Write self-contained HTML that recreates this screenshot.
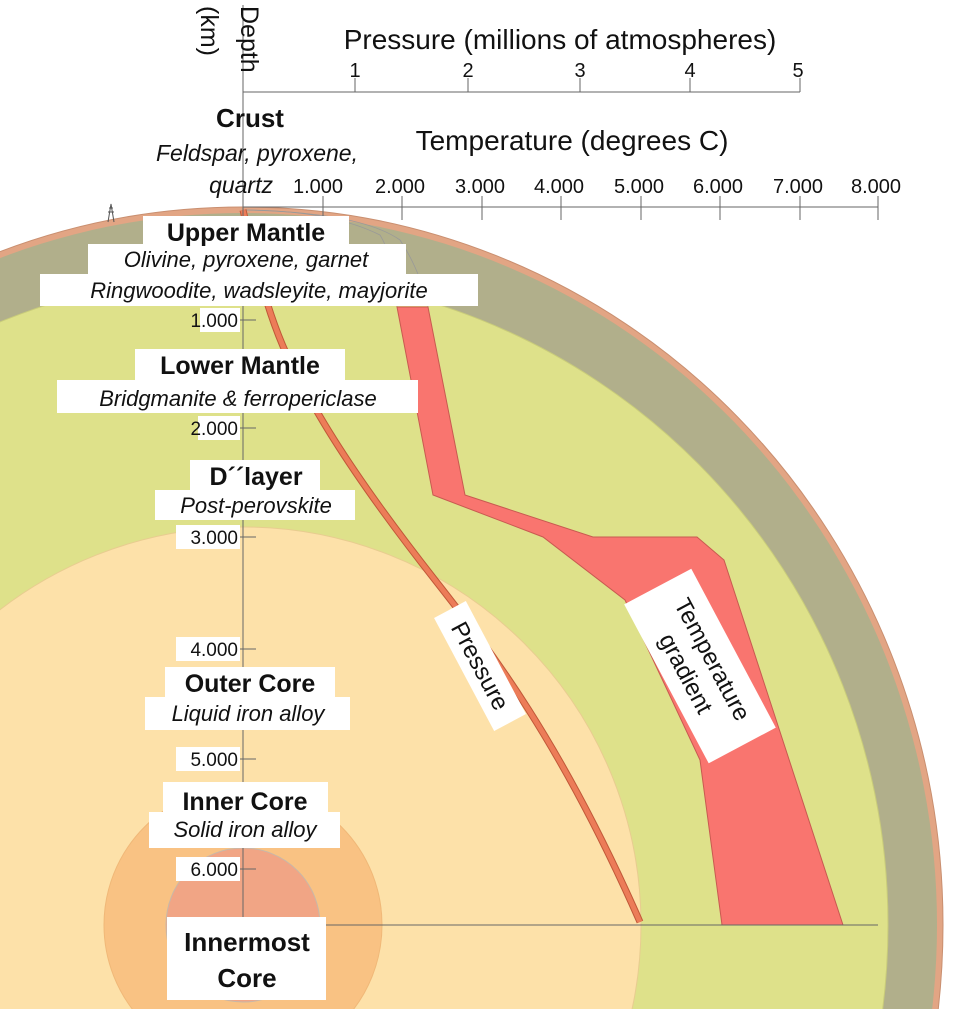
<!DOCTYPE html>
<html><head><meta charset="utf-8"><style>
html,body{margin:0;padding:0;background:#fff;width:959px;height:1009px;overflow:hidden;}
svg{display:block;font-family:"Liberation Sans",sans-serif;}
</style></head><body>
<svg width="959" height="1009" viewBox="0 0 959 1009" xmlns="http://www.w3.org/2000/svg">
<rect width="959" height="1009" fill="#fff"/>
<ellipse cx="243" cy="925" rx="700" ry="718" fill="#e2a584" stroke="#c98f70" stroke-width="1"/>
<ellipse cx="243" cy="925" rx="694" ry="712" fill="#b1af8b"/>
<ellipse cx="243" cy="925" rx="645" ry="651" fill="#dee18a" stroke="#c9cc7a" stroke-width="1"/>
<circle cx="243" cy="925" r="398" fill="#fde1a9" stroke="#e8cc90" stroke-width="1"/>
<circle cx="243" cy="925" r="139" fill="#f9c283" stroke="#f0b878" stroke-width="1"/>
<circle cx="243" cy="925" r="77" fill="#f1a585" stroke="#c8b8a8" stroke-width="1"/>
<path d="M243,210 Q330,210 380,235 Q395,260 397,307" fill="none" stroke="#999" stroke-width="0.8"/>
<path d="M243,210 Q360,212 400,240 Q420,270 428,307" fill="none" stroke="#999" stroke-width="0.8"/>
<polygon points="397,307 428,307 465,495 593,537 697,537 724,560 843,925 722,925 700,760 625,600 543,537 433,495" fill="#f9756f" stroke="#c85a50" stroke-width="1"/>
<path d="M243,210 C255,260 270,330 300,380 C330,440 380,510 435,580 C490,650 560,740 640,922" fill="none" stroke="#c05838" stroke-width="7"/>
<path d="M243,210 C255,260 270,330 300,380 C330,440 380,510 435,580 C490,650 560,740 640,922" fill="none" stroke="#ec7c58" stroke-width="5"/>
<g stroke="#666" stroke-width="1" fill="none">
<line x1="243" y1="92" x2="800" y2="92"/>
<line x1="355" y1="78" x2="355" y2="92"/><line x1="468" y1="78" x2="468" y2="92"/><line x1="580" y1="78" x2="580" y2="92"/><line x1="690" y1="78" x2="690" y2="92"/><line x1="800" y1="78" x2="800" y2="92"/>
<line x1="243" y1="207" x2="878" y2="207"/>
<line x1="323" y1="196" x2="323" y2="220"/><line x1="402" y1="196" x2="402" y2="220"/><line x1="482" y1="196" x2="482" y2="220"/><line x1="561" y1="196" x2="561" y2="220"/><line x1="641" y1="196" x2="641" y2="220"/><line x1="720" y1="196" x2="720" y2="220"/><line x1="800" y1="196" x2="800" y2="220"/><line x1="878" y1="196" x2="878" y2="220"/>
<line x1="243" y1="5" x2="243" y2="925"/>
<line x1="243" y1="925" x2="878" y2="925"/>
<line x1="236" y1="320" x2="256" y2="320"/><line x1="236" y1="428" x2="256" y2="428"/><line x1="236" y1="537" x2="256" y2="537"/><line x1="236" y1="649" x2="256" y2="649"/><line x1="236" y1="759" x2="256" y2="759"/><line x1="236" y1="869" x2="256" y2="869"/>
</g>
<g stroke="#555" stroke-width="1" fill="none"><path d="M108,222 L111,204 L114,222 M108,212 L114,212 M109,208 L113,208"/></g>
<g fill="#111">
<text x="560" y="49" font-size="28" text-anchor="middle">Pressure (millions of atmospheres)</text>
<g font-size="20" text-anchor="middle"><text x="355" y="77">1</text><text x="468" y="77">2</text><text x="580" y="77">3</text><text x="690" y="77">4</text><text x="798" y="77">5</text></g>
<text x="572" y="150" font-size="28" text-anchor="middle">Temperature (degrees C)</text>
<g font-size="20" text-anchor="middle"><text x="318" y="193">1.000</text><text x="400" y="193">2.000</text><text x="480" y="193">3.000</text><text x="559" y="193">4.000</text><text x="639" y="193">5.000</text><text x="718" y="193">6.000</text><text x="798" y="193">7.000</text><text x="876" y="193">8.000</text></g>
<text transform="translate(241,6) rotate(90)" font-size="25">Depth</text>
<text transform="translate(201,6) rotate(90)" font-size="25">(km)</text>
<text x="250" y="127" font-size="26" font-weight="bold" text-anchor="middle">Crust</text>
<text x="358" y="161" font-size="23" font-style="italic" text-anchor="end">Feldspar, pyroxene,</text>
<text x="273" y="193" font-size="23" font-style="italic" text-anchor="end">quartz</text>
</g>
<g fill="#fff">
<rect x="143" y="216" width="206" height="29"/>
<rect x="88" y="244" width="318" height="31"/>
<rect x="40" y="274" width="438" height="32"/>
<rect x="200" y="308" width="40" height="24"/>
<rect x="135" y="349" width="210" height="31"/>
<rect x="57" y="380" width="361" height="33"/>
<rect x="198" y="416" width="42" height="24"/>
<rect x="190" y="460" width="130" height="30"/>
<rect x="155" y="490" width="200" height="30"/>
<rect x="176" y="525" width="64" height="24"/>
<rect x="176" y="637" width="64" height="24"/>
<rect x="165" y="667" width="170" height="30"/>
<rect x="145" y="697" width="205" height="33"/>
<rect x="176" y="747" width="64" height="24"/>
<rect x="163" y="782" width="165" height="30"/>
<rect x="149" y="812" width="191" height="36"/>
<rect x="176" y="857" width="64" height="24"/>
<rect x="167" y="917" width="159" height="83"/>
</g>
<g fill="#111">
<text x="246" y="241" font-size="25" font-weight="bold" text-anchor="middle">Upper Mantle</text>
<text x="246" y="267" font-size="22" font-style="italic" text-anchor="middle">Olivine, pyroxene, garnet</text>
<text x="259" y="298" font-size="22" font-style="italic" text-anchor="middle">Ringwoodite, wadsleyite, mayjorite</text>
<text x="240" y="374" font-size="25" font-weight="bold" text-anchor="middle">Lower Mantle</text>
<text x="238" y="406" font-size="22" font-style="italic" text-anchor="middle">Bridgmanite &amp; ferropericlase</text>
<text x="256" y="485" font-size="25" font-weight="bold" text-anchor="middle">D´´layer</text>
<text x="256" y="513" font-size="22" font-style="italic" text-anchor="middle">Post-perovskite</text>
<text x="250" y="692" font-size="25" font-weight="bold" text-anchor="middle">Outer Core</text>
<text x="248" y="721" font-size="22" font-style="italic" text-anchor="middle">Liquid iron alloy</text>
<text x="245" y="810" font-size="25" font-weight="bold" text-anchor="middle">Inner Core</text>
<text x="245" y="837" font-size="22" font-style="italic" text-anchor="middle">Solid iron alloy</text>
<text x="247" y="951" font-size="26" font-weight="bold" text-anchor="middle">Innermost</text>
<text x="247" y="987" font-size="26" font-weight="bold" text-anchor="middle">Core</text>
<g font-size="19" text-anchor="end"><text x="238" y="327">1.000</text><text x="238" y="435">2.000</text><text x="238" y="544">3.000</text><text x="238" y="656">4.000</text><text x="238" y="766">5.000</text><text x="238" y="876">6.000</text></g>
</g>
<g transform="translate(480,666) rotate(62)">
<rect x="-64" y="-18" width="128" height="36" fill="#fff"/>
<text x="0" y="8" font-size="24" text-anchor="middle" fill="#111">Pressure</text>
</g>
<g transform="translate(700,666) rotate(62)">
<rect x="-90" y="-38" width="180" height="76" fill="#fff"/>
<text x="0" y="-6" font-size="24" text-anchor="middle" fill="#111">Temperature</text>
<text x="0" y="24" font-size="24" text-anchor="middle" fill="#111">gradient</text>
</g>
</svg>
</body></html>
